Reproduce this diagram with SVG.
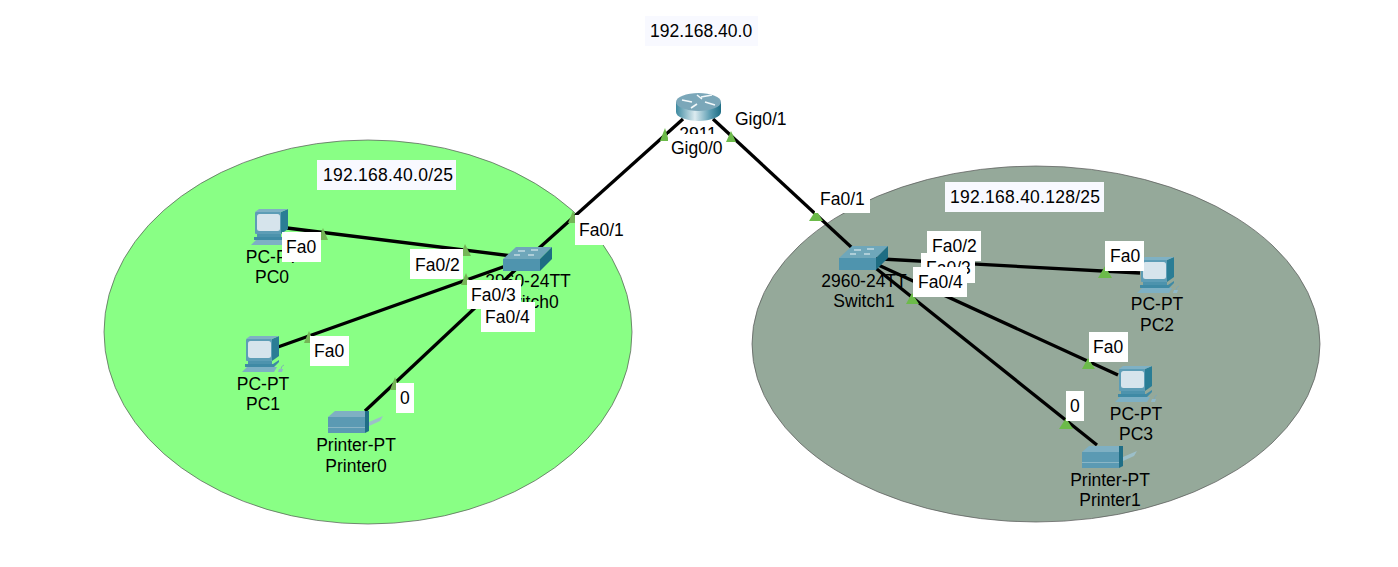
<svg xmlns="http://www.w3.org/2000/svg" xmlns:xlink="http://www.w3.org/1999/xlink" width="1398" height="567" viewBox="0 0 1398 567">
<style>
text{font-family:"Liberation Sans",Arial,sans-serif;font-size:17.5px;fill:#000}
.m{text-anchor:middle}
.link{stroke:#000;stroke-width:3.3;fill:none;stroke-linecap:butt}
.tri{fill:#6cbb4a}
.tril{fill:#74b556}
.lab{fill:#fff}
.note{fill:#f8f9ff}
.zone{stroke:#555;stroke-width:.7}
</style>
<defs>
<linearGradient id="cyl" x1="0" x2="1" y1="0" y2="0">
<stop offset="0" stop-color="#3e8aa0"/><stop offset=".42" stop-color="#dcebf0"/><stop offset=".75" stop-color="#5f9fb4"/><stop offset="1" stop-color="#1d6d84"/>
</linearGradient>
<g id="pc">
<polygon points="26,3 33,0 33,20 26,25" fill="#2a7d95"/>
<polygon points="0,3 4,0 33,0 26,3" fill="#7fb1c4"/>
<rect x="0" y="3" width="26" height="22" rx="1" fill="#5d9db6"/>
<rect x="2" y="5" width="23" height="17" rx="2.500" fill="#d6e4ec"/>
<polygon points="2,25 26,25 26,28 2,28" fill="#4d93ad"/>
<polygon points="-1,28 27,28 33,24 33,26 28,31 -1,31" fill="#3f8aa5"/>
<polygon points="1,31 31,31 28,36 -4,36" fill="#7db0c4"/>
<polygon points="33,33 37,33 36,36 32,36" fill="#8fb8c8"/>
<path d="M35,33 Q35,30 38,29" fill="none" stroke="#7aa6b8" stroke-width=".8"/>
</g>
<g id="printer">
<polygon points="0,6 7,0 37,0 37,6" fill="#7fb0c3"/>
<rect x="0" y="6" width="37" height="16" fill="#5b9ab3"/>
<rect x="0" y="16" width="37" height="1" fill="#8ab6c6"/>
<polygon points="37,0 41,0 41,20 37,22" fill="#1f6e86"/>
<polygon points="41,11 55,5 52,10 41,15" fill="#9cbfc9"/>
</g>
<g id="switch">
<polygon points="0,12 13,0 49,0 37,12" fill="#6fa7ba"/>
<rect x="0" y="12" width="37" height="12" fill="#4f94ae"/>
<polygon points="37,12 49,0 49,12 37,24" fill="#1e6d83"/>
<path d="M15,4 h7 M28,3 h7 M11,8 h6 M25,8 h6" stroke="#eef6f8" stroke-width="1" fill="none"/>
</g>
<g id="router">
<path d="M0,9 V19 A22.500,9 0 0 0 45,19 V9 Z" fill="url(#cyl)"/>
<ellipse cx="22.500" cy="9" rx="22.500" ry="9" fill="#7ba7b9"/>
<path d="M6,7 L16,9 M25,4 L36,2 M29,9 L39,12 M15,15 L21,11 M21,2 L26,6" stroke="#f2f8fa" stroke-width="1.600" fill="none"/>
</g>
</defs>

<rect width="1398" height="567" fill="#fff"/>
<g id="zones">
<ellipse class="zone" cx="368" cy="332" rx="264" ry="192" fill="#89ff85"/>
<ellipse class="zone" cx="1036" cy="344" rx="284" ry="178" fill="#95a99a"/>
</g>

<g id="connectors">
<line class="link" x1="683" y1="119" x2="528" y2="258"/>
<line class="link" x1="713" y1="119" x2="863" y2="258"/>
<line class="link" x1="287" y1="228" x2="528" y2="258"/>
<line class="link" x1="278" y1="347" x2="528" y2="258"/>
<line class="link" x1="365" y1="411" x2="528" y2="258"/>
<line class="link" x1="863" y1="258" x2="1140" y2="273"/>
<line class="link" x1="863" y1="258" x2="1118" y2="375"/>
<line class="link" x1="863" y1="258" x2="1097" y2="445"/>
<polygon class="tril" points="323,228 318,240 328,240"/>
<polygon class="tril" points="465,244 460,256 471,256"/>
<polygon class="tril" points="466,273 461,285 471,285"/>
<polygon class="tril" points="309,331 304,343 314,343"/>
<polygon class="tril" points="395,377 390,390 400,390"/>
<polygon class="tril" points="573,211 568,223 578,223"/>
<polygon class="tri" points="665,128 660,141 669,141"/>
<polygon class="tri" points="731,131 726,142 736,142"/>
<polygon class="tri" points="816,210 809,221 823,221"/>
<polygon class="tri" points="912,293 906,304 919,304"/>
<polygon class="tri" points="1105,266 1098,278 1112,278"/>
<polygon class="tri" points="1088,358 1082,369 1095,369"/>
<polygon class="tri" points="1066,418 1059,429 1073,429"/>
</g>

<g id="Router0"><use href="#router" x="676" y="93"/><text class="m" x="698" y="140">2911</text></g>
<g id="Switch0"><use href="#switch" x="503" y="247"/><text class="m" x="528" y="287">2960-24TT</text><text class="m" x="528" y="308">Switch0</text></g>
<g id="Switch1"><use href="#switch" x="839" y="246"/><text class="m" x="864" y="287">2960-24TT</text><text class="m" x="864" y="307">Switch1</text></g>
<g id="PC0"><use href="#pc" x="255" y="209"/><text class="m" x="272" y="263">PC-PT</text><text class="m" x="272" y="283">PC0</text></g>
<g id="PC1"><use href="#pc" x="246" y="336"/><text class="m" x="263" y="390">PC-PT</text><text class="m" x="263" y="410">PC1</text></g>
<g id="PC2"><use href="#pc" x="1141" y="257"/><text class="m" x="1157" y="310">PC-PT</text><text class="m" x="1157" y="331">PC2</text></g>
<g id="PC3"><use href="#pc" x="1119" y="366"/><text class="m" x="1136" y="420">PC-PT</text><text class="m" x="1136" y="440">PC3</text></g>
<g id="Printer0"><use href="#printer" x="328" y="411"/><text class="m" x="356" y="451">Printer-PT</text><text class="m" x="356" y="472">Printer0</text></g>
<g id="Printer1"><use href="#printer" x="1082" y="446"/><text class="m" x="1110" y="486">Printer-PT</text><text class="m" x="1110" y="506">Printer1</text></g>

<g id="port-labels">
<rect class="lab" x="668" y="134" width="58" height="29"/><text x="671" y="154">Gig0/0</text>
<text x="735" y="125">Gig0/1</text>
<rect class="lab" x="575" y="215" width="55" height="30"/><text x="579" y="236">Fa0/1</text>
<rect class="lab" x="815" y="184" width="55" height="29"/><text x="820" y="205">Fa0/1</text>
<rect class="lab" x="282" y="232" width="39" height="30"/><text x="286" y="253">Fa0</text>
<rect class="lab" x="410" y="249" width="53" height="30"/><text x="415" y="271">Fa0/2</text>
<rect class="lab" x="467" y="280" width="54" height="29"/><text x="471" y="301">Fa0/3</text>
<rect class="lab" x="481" y="302" width="54" height="30"/><text x="485" y="323">Fa0/4</text>
<rect class="lab" x="310" y="336" width="39" height="30"/><text x="314" y="357">Fa0</text>
<rect class="lab" x="396" y="383" width="18" height="30"/><text x="400" y="404">0</text>
<rect class="lab" x="921" y="253" width="54" height="30"/><text x="926" y="274">Fa0/3</text>
<rect class="lab" x="927" y="231" width="54" height="30"/><text x="932" y="252">Fa0/2</text>
<rect class="lab" x="913" y="267" width="54" height="30"/><text x="918" y="288">Fa0/4</text>
<rect class="lab" x="1105" y="241" width="39" height="30"/><text x="1110" y="262">Fa0</text>
<rect class="lab" x="1089" y="332" width="39" height="30"/><text x="1093" y="353">Fa0</text>
<rect class="lab" x="1066" y="391" width="18" height="30"/><text x="1070" y="412">0</text>
</g>

<g id="notes">
<rect class="note" x="645" y="16" width="113" height="30"/><text x="650" y="37">192.168.40.0</text>
<rect class="note" x="317" y="160" width="139" height="30"/><text x="323" y="181" textLength="130" lengthAdjust="spacing">192.168.40.0/25</text>
<rect class="note" x="945" y="182" width="159" height="30"/><text x="950" y="203" textLength="150" lengthAdjust="spacing">192.168.40.128/25</text>
</g>
</svg>
